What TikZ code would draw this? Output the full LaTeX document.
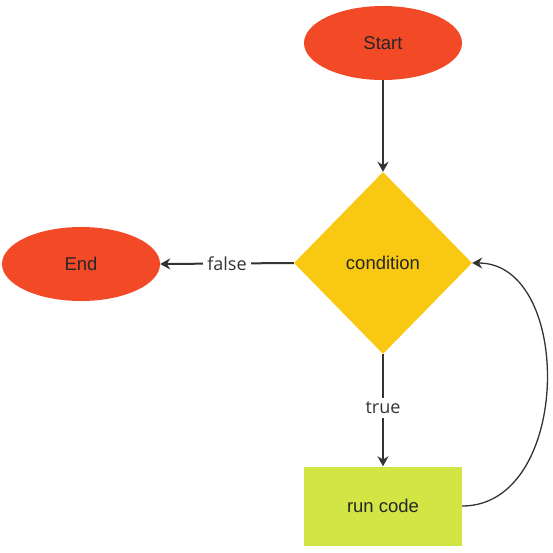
\documentclass[tikz,border=0pt]{standalone}
\usepackage{fontspec}
\setmainfont{Liberation Sans}
\newfontfamily\labelfont{Open Sans}
\usetikzlibrary{shapes.geometric,arrows.meta}
\definecolor{termred}{HTML}{F24A27}
\definecolor{condyellow}{HTML}{F9C812}
\definecolor{codegreen}{HTML}{D1E645}
\definecolor{edgegray}{HTML}{333333}
\tikzset{
  term/.style={ellipse, fill=termred, minimum width=158pt, minimum height=74pt, inner sep=0pt, text=black!85, font=\fontsize{18.5}{20}\selectfont},
  cond/.style={diamond, fill=condyellow, minimum width=178pt, minimum height=182pt, inner sep=0pt, aspect=1, text=black!85, font=\fontsize{18.5}{20}\selectfont},
  codebox/.style={rectangle, fill=codegreen, minimum width=158pt, minimum height=79pt, inner sep=0pt, text=black!85, font=\fontsize{18.5}{20}\selectfont},
  flow/.style={draw=edgegray, line width=2pt, -{Stealth[length=10pt,width=11pt]}},
  loopflow/.style={draw=edgegray, line width=1.3pt, -{Stealth[length=10pt,width=11pt]}},
  elabel/.style={fill=white, text=edgegray, inner sep=4pt, font=\labelfont\fontsize{18}{20}\selectfont},
}
\begin{document}
\begin{tikzpicture}[x=1pt,y=-1pt]
\useasboundingbox (0,0) rectangle (553,552);
\node[term] (start) at (383,43) {Start};
\node[cond] (cond) at (383,263) {condition};
\node[term] (end) at (81,264) {End};
\node[codebox] (code) at (383,506) {run code};
\draw[flow] (start) -- (cond);
\draw[flow] (cond.west) -- node[elabel] {false} (end.east);
\draw[flow] (cond.south) -- node[elabel, pos=0.48] {true} (code.north);
\draw[loopflow] (code.east) .. controls (572,506) and (574,263) .. (cond.east);
\end{tikzpicture}
\end{document}
